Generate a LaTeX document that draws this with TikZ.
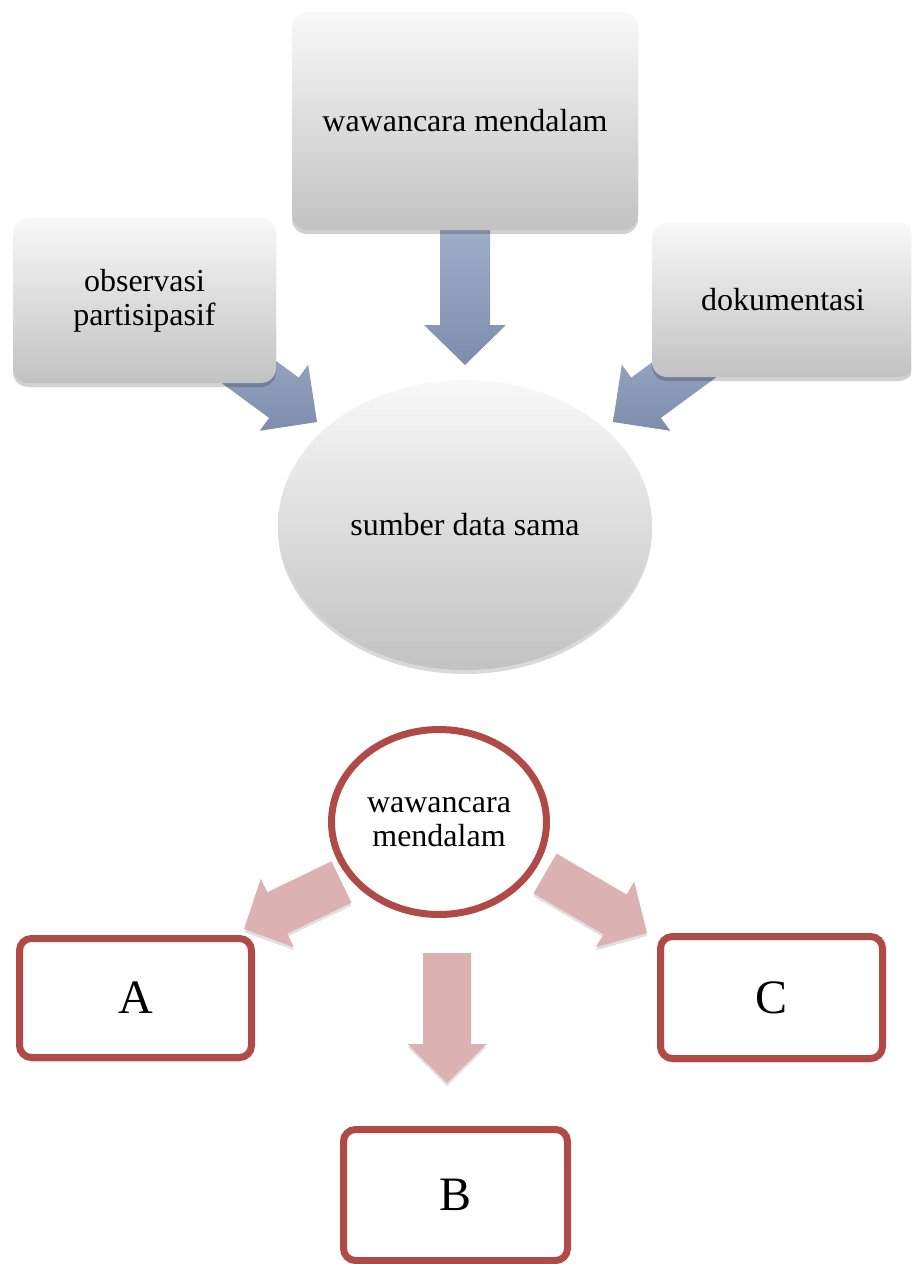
\documentclass[tikz,border=0pt]{standalone}
\usepackage{fontspec}
\setmainfont{Liberation Serif}
\usetikzlibrary{calc,shapes.geometric,shadows}
\definecolor{boxtop}{HTML}{F8F8F8}
\definecolor{boxbot}{HTML}{C2C2C2}
\definecolor{bluetop}{HTML}{9DADCA}
\definecolor{bluebot}{HTML}{7E8DAB}
\definecolor{pinkarrow}{HTML}{DCB1B1}
\definecolor{darkred}{HTML}{AF4A47}
% block arrow: #1 style, #2 start, #3 tip, #4 half shaft width, #5 half head width, #6 head length
\newcommand{\blockarr}[6]{%
  \coordinate (ba-b) at ($(#3)!#6!(#2)$);
  \path[#1] ($(#2)!#4!90:(#3)$) -- ($(ba-b)!#4!90:(#3)$) -- ($(ba-b)!#5!90:(#3)$)
    -- (#3) -- ($(ba-b)!#5!-90:(#3)$) -- ($(ba-b)!#4!-90:(#3)$) -- ($(#2)!#4!-90:(#3)$) -- cycle;}
\tikzset{
  bigtext/.style={font=\fontsize{32}{34}\selectfont, text=black},
  graybox/.style={rectangle, rounded corners=15pt, top color=boxtop, bottom color=boxbot,
    draw=none, bigtext, align=center,
    drop shadow={shadow xshift=0pt, shadow yshift=-4pt, opacity=0.18, fill=black}},
  grayell/.style={ellipse, top color=boxtop, bottom color=boxbot, draw=none, bigtext,
    drop shadow={shadow xshift=0pt, shadow yshift=-4pt, opacity=0.15, fill=black}},
  redbox/.style={rectangle, rounded corners=12pt, draw=darkred, line width=7pt, fill=white,
    font=\fontsize{48}{50}\selectfont, text=black,
    drop shadow={shadow xshift=0pt, shadow yshift=-4pt, opacity=0.15, fill=black}},
  redell/.style={ellipse, draw=darkred, line width=7pt, fill=white, bigtext, align=center,
    inner sep=0pt},
  bluearr/.style={top color=bluetop, bottom color=bluebot, draw=none},
  pinkarr/.style={fill=pinkarrow, draw=none,
    drop shadow={shadow xshift=0pt, shadow yshift=-3pt, opacity=0.12, fill=black}},
}
\begin{document}
\begin{tikzpicture}[x=1pt, y=-1pt]
\useasboundingbox (0,0) rectangle (911,1264);
\clip (0,0) rectangle (911,1264);
% arrow end points
\coordinate (a1s) at (465,228);
\coordinate (a1e) at (465,365);
\coordinate (a2s) at (210,343.5);
\coordinate (a2e) at (317,422);
\coordinate (a3s) at (720,343.5);
\coordinate (a3e) at (613,422);
\coordinate (b1s) at (341.5,882);
\coordinate (b1e) at (244,929);
\coordinate (b2s) at (545,873.5);
\coordinate (b2e) at (647,933);
\coordinate (b3s) at (447,953);
\coordinate (b3e) at (447,1083);
% blue block arrows
\blockarr{bluearr}{a1s}{a1e}{25pt}{41pt}{40pt}
\blockarr{bluearr}{a2s}{a2e}{25pt}{41pt}{41pt}
\blockarr{bluearr}{a3s}{a3e}{25pt}{41pt}{41pt}
% top nodes
\node[graybox, minimum width=346pt, minimum height=218pt] (top) at (465,121) {wawancara mendalam};
\node[graybox, minimum width=263pt, minimum height=165pt] (obs) at (144.5,300.5) {observasi\\partisipasif};
\node[graybox, minimum width=262pt, minimum height=154pt] (dok) at (783,300) {dokumentasi};
\node[grayell, minimum width=374pt, minimum height=290pt] (ell) at (465,525) {sumber data sama};
% pink block arrows
\blockarr{pinkarr}{b1s}{b1e}{23pt}{38pt}{37pt}
\blockarr{pinkarr}{b2s}{b2e}{23pt}{38pt}{37pt}
\blockarr{pinkarr}{b3s}{b3e}{24pt}{39.5pt}{39pt}
% bottom nodes
\node[redell, minimum width=215pt, minimum height=185pt] (wm) at (439,822) {wawancara\\mendalam};
\node[redbox, minimum width=232pt, minimum height=119pt] (A) at (135.5,998) {A};
\node[redbox, minimum width=222pt, minimum height=122pt] (C) at (771.5,997.5) {C};
\node[redbox, minimum width=224pt, minimum height=131pt] (B) at (455.5,1195) {B};
\end{tikzpicture}
\end{document}
